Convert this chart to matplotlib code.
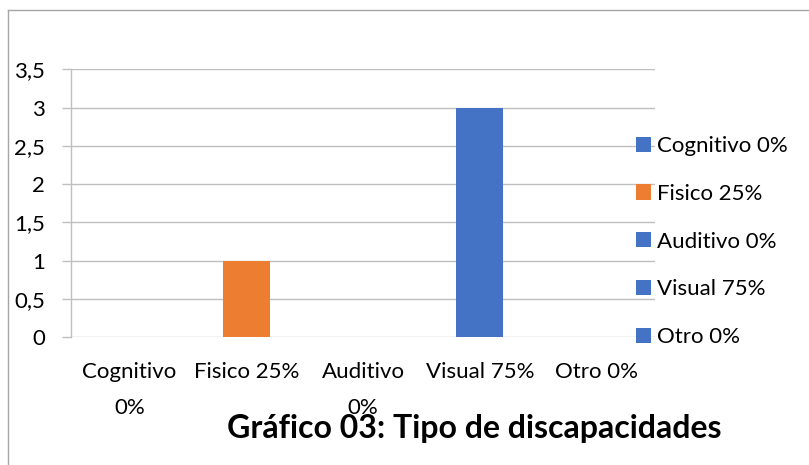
import matplotlib.pyplot as plt
from matplotlib.patches import Patch
from matplotlib.lines import Line2D

# datos
categorias = ['Cognitivo\n0%', 'Fisico 25%', 'Auditivo\n0%', 'Visual 75%', 'Otro 0%']
leyenda = ['Cognitivo 0%', 'Fisico 25%', 'Auditivo 0%', 'Visual 75%', 'Otro 0%']
valores = [0, 1, 0, 3, 0]
colores = ['#4472C4', '#ED7D31', '#4472C4', '#4472C4', '#4472C4']
ticks_y = [0, 0.5, 1, 1.5, 2, 2.5, 3, 3.5]
etiquetas_y = ['0', '0,5', '1', '1,5', '2', '2,5', '3', '3,5']

plt.rcParams['font.family'] = ['Lato', 'DejaVu Sans']
gris = '#BFBFBF'

fig = plt.figure(figsize=(8.09, 4.65), dpi=100)
ax = fig.add_axes([71 / 809, 1 - 337 / 465, (655 - 71) / 809, (337 - 69.3) / 465])

x = list(range(len(categorias)))
ax.bar(x, valores, width=0.4, color=colores, zorder=3)

ax.set_xlim(-0.5, len(categorias) - 0.5)
ax.set_ylim(0, 3.5)
ax.set_yticks(ticks_y)
ax.set_yticklabels(etiquetas_y, fontsize=16)
ax.set_xticks(x)
ax.set_xticklabels(categorias, fontsize=16, linespacing=2.0)
ax.tick_params(axis='y', length=6.5, color=gris, width=1, pad=12)
ax.tick_params(axis='x', length=0, pad=18)
ax.grid(axis='y', color=gris, linewidth=1, zorder=0)

for lado in ['top', 'right', 'bottom']:
    ax.spines[lado].set_visible(False)
ax.spines['left'].set_color(gris)
ax.spines['left'].set_linewidth(1)

# leyenda
handles = [Patch(facecolor=c, edgecolor='none') for c in colores]
fig.legend(handles, leyenda, loc='center left', bbox_to_anchor=(636 / 809, 1 - 241.5 / 465),
           frameon=False, fontsize=16, handlelength=0.68, handleheight=0.68,
           handletextpad=0.25, labelspacing=1.25, borderpad=0, borderaxespad=0)

# titulo
fig.text(474 / 809, 1 - 428.5 / 465, 'Gráfico 03: Tipo de discapacidades', fontsize=23,
         fontweight='bold', ha='center', va='center')

# borde del grafico
fig.add_artist(Line2D([8 / 809, 8 / 809], [0, 1 - 10 / 465], color='#A6A6A6', linewidth=1,
                      transform=fig.transFigure))
fig.add_artist(Line2D([8 / 809, 1], [1 - 10 / 465, 1 - 10 / 465], color='#A6A6A6', linewidth=1,
                      transform=fig.transFigure))

fig.savefig('out.png', dpi=100)
